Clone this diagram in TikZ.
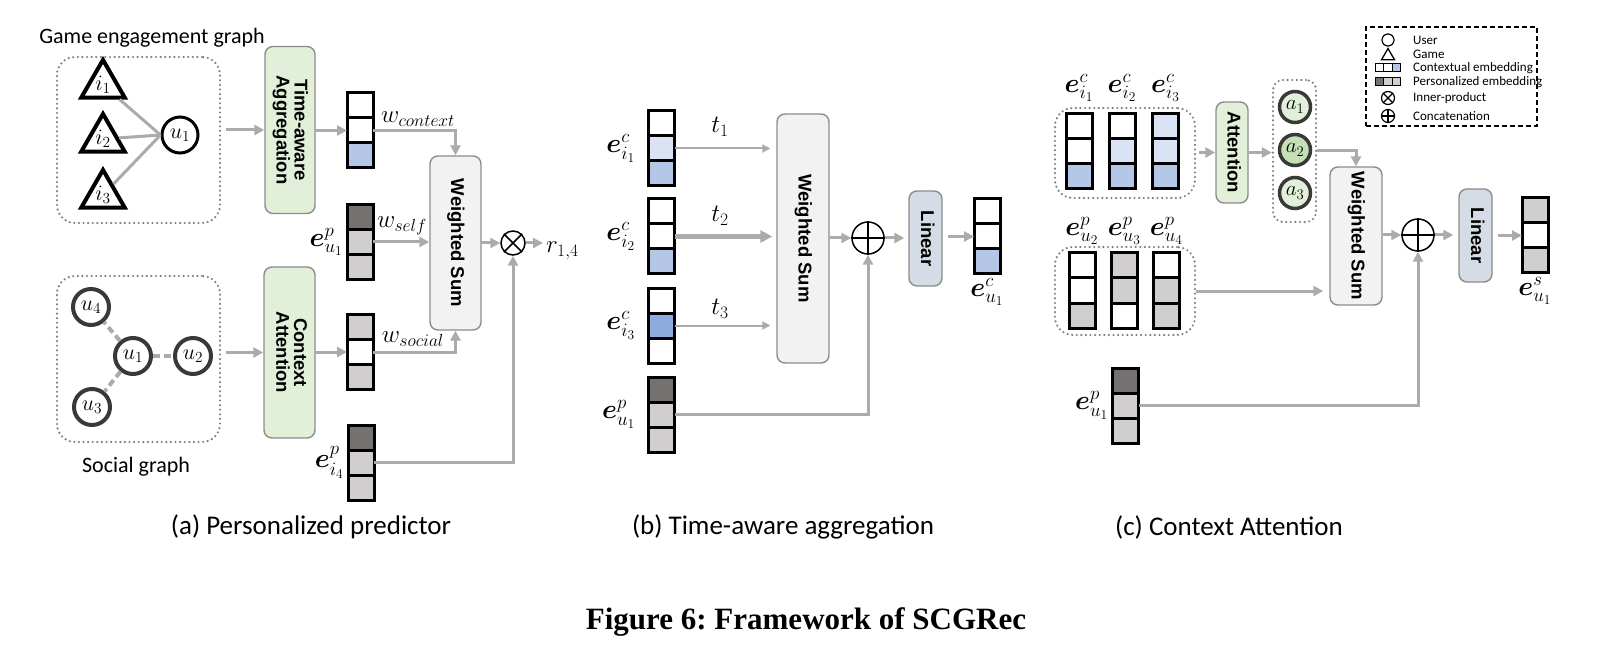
\RequirePackage{fix-cm}
\documentclass[tikz,border=0pt]{standalone}
\usepackage{amsmath}
\usepackage{amssymb}
\usepackage{bm}
\usepackage{fontspec}
\setmainfont{Carlito}
\newfontfamily\boxfont{Liberation Sans}
\newfontfamily\figfont{Liberation Serif}
\usetikzlibrary{arrows.meta}
\usetikzlibrary{shapes.geometric}
\usetikzlibrary{positioning}
\usetikzlibrary{calc}

\definecolor{arrgray}{HTML}{AEAAAA}
\definecolor{boxgray}{HTML}{8C8C8C}
\definecolor{dotgray}{HTML}{7F7F7F}
\definecolor{ringgray}{HTML}{3B3838}
\definecolor{ctxblue}{HTML}{B4C7E7}
\definecolor{ltblue}{HTML}{DAE3F3}
\definecolor{midblue}{HTML}{8FAADC}
\definecolor{pdark}{HTML}{767171}
\definecolor{plight}{HTML}{D0CECE}
\definecolor{attgreen}{HTML}{E2F0D9}
\definecolor{agreen}{HTML}{C5E0B4}
\definecolor{sumgray}{HTML}{F2F2F2}
\definecolor{linblue}{HTML}{D6DCE5}

\tikzset{cell/.style = {draw, line width = 3pt, minimum width = 26, minimum height = 25, inner sep = 0, outer sep = 0}}
\tikzset{lcell/.style = {draw, line width = 1pt, minimum width = 8.5, minimum height = 8, inner sep = 0, outer sep = 0}}
\tikzset{tbox/.style = {draw = boxgray, line width = 1.4pt, rounded corners = 8pt, inner sep = 0, font = \boxfont\bfseries\fontsize{18.5}{15}\selectfont}}
\tikzset{region/.style = {draw = dotgray, line width = 2.4pt, line cap = round, dash pattern = on 0pt off 4.6pt, rounded corners = 18pt, inner sep = 0}}
\tikzset{game/.style = {regular polygon, regular polygon sides = 3, draw, line width = 4pt, minimum size = 44, inner sep = 0, font = \fontsize{22}{22}\selectfont}}
\tikzset{user/.style = {circle, draw, line width = 3pt, minimum size = 36, inner sep = 0, font = \fontsize{22}{22}\selectfont}}
\tikzset{friend/.style = {user, draw = ringgray, line width = 4pt}}
\tikzset{weight/.style = {circle, draw = ringgray, line width = 3.5pt, minimum size = 31, inner sep = 0, fill = attgreen, font = \fontsize{21}{21}\selectfont}}
\tikzset{op/.style = {circle, draw, line width = 1.5pt, inner sep = 0}}
\tikzset{emb/.style = {inner sep = 1pt, font = \fontsize{27}{27}\selectfont}}
\tikzset{wlab/.style = {inner sep = 1pt, font = \fontsize{25}{25}\selectfont}}
\tikzset{glabel/.style = {inner sep = 0, font = \fontsize{22}{24}\selectfont}}
\tikzset{conn/.style = {draw = arrgray, line width = 3pt}}
\tikzset{garrow/.style = {conn, -{Triangle[length = 10pt, width = 10pt]}}}
\tikzset{tarrow/.style = {draw = arrgray, line width = 2pt, -{Triangle[length = 8pt, width = 8pt]}}}
\tikzset{gedge/.style = {draw = arrgray, line width = 3pt}}
\tikzset{sedge/.style = {draw = arrgray, line width = 4pt, dash pattern = on 7pt off 4pt}}

\newcommand{\vtext}[1]{\rotatebox{-90}{\begin{tabular}{@{}c@{}}#1\end{tabular}}}
\newcommand{\embcol}[6]{%
  \node[cell, fill = #4] (#1-1) at (#2, #3 - 25) {};
  \node[cell, fill = #5] (#1-2) at (#2, #3) {};
  \node[cell, fill = #6] (#1-3) at (#2, #3 + 25) {};
}

\begin{document}
\begin{tikzpicture}[x = 1pt, y = -1pt]
  \path[use as bounding box, fill = white] (0, 0) rectangle (1607, 655);

  % (a) personalized predictor
  \node[region, minimum width = 163, minimum height = 166] (gamebox) at (138.5, 140) {};
  \node[glabel] (gamelab) at (152, 38) {Game engagement graph};
  \node[game] (i1) at (103, 85) {$i_1$};
  \node[game] (i2) at (103, 139) {$i_2$};
  \node[game] (i3) at (103, 195) {$i_3$};
  \node[user] (u1) at (180, 135) {$u_1$};
  \foreach \g in {i1, i2, i3}
    \draw[gedge] (\g) -- (u1.west);

  \node[region, minimum width = 163, minimum height = 166] (socbox) at (138.5, 359) {};
  \node[glabel] (soclab) at (136, 467) {Social graph};
  \node[friend] (su1) at (133, 356) {$u_1$};
  \node[friend] (su2) at (193, 356) {$u_2$};
  \node[friend] (su3) at (92, 407) {$u_3$};
  \node[friend] (su4) at (91, 307) {$u_4$};
  \foreach \f in {su2, su3, su4}
    \draw[sedge] (su1) -- (\f);

  \node[tbox, fill = attgreen, minimum width = 50, minimum height = 167] (tagg) at (290, 130) {\vtext{Time-aware\\Aggregation}};
  \node[tbox, fill = attgreen, minimum width = 51, minimum height = 171] (catt) at (289.5, 352.5) {\vtext{Context\\Attention}};
  \node[tbox, fill = sumgray, minimum width = 51, minimum height = 174] (wsa) at (455.5, 243) {\vtext{Weighted Sum}};
  \node[op, minimum size = 24] (otimes) at (513, 243) {};
  \draw[line width = 1.5pt] (otimes.north west) -- (otimes.south east) (otimes.north east) -- (otimes.south west);

  \embcol{ctx}{360}{130.5}{white}{white}{ctxblue}
  \embcol{selfa}{360}{242}{pdark}{plight}{plight}
  \embcol{soc}{360}{352}{plight}{white}{plight}
  \embcol{gi4}{361}{462.5}{pdark}{plight}{plight}
  \node[emb, left = 3pt of selfa-2] (lselfa) {$\bm{e}^{p}_{u_1}$};
  \node[emb, left = 3pt of gi4-2] (lgi4) {$\bm{e}^{p}_{i_4}$};
  \node[wlab] (wctx) at (418, 119) {$w_{context}$};
  \node[wlab] (wself) at (402, 226) {$w_{self}$};
  \node[wlab] (wsoc) at (413, 339) {$w_{social}$};
  \node[wlab, anchor = west] (rlab) at (545, 251) {$r_{1,4}$};
  \coordinate (rend) at (543, 243);

  \draw[garrow, shorten <= 5pt] (gamebox.east |- tagg.west) -- (tagg.west);
  \draw[garrow, shorten <= 5pt] (socbox.east |- catt.west) -- (catt.west);
  \draw[garrow] (tagg.east |- ctx-2) -- (ctx-2.west);
  \draw[garrow] (catt.east |- soc-2) -- (soc-2.west);
  \draw[garrow] (ctx-2.east) -| (wsa.north);
  \draw[garrow] (selfa-2.east) -- (wsa.west |- selfa-2);
  \draw[garrow] (soc-2.east) -| (wsa.south);
  \draw[garrow] (wsa.east |- otimes) -- (otimes.west);
  \draw[garrow] (otimes.east) -- (rend);
  \draw[garrow] (gi4-2.east) -| (otimes.south);

  % (b) time-aware aggregation
  \embcol{bi1}{661.5}{148.5}{white}{ltblue}{ctxblue}
  \embcol{bi2}{661.5}{236.5}{white}{white}{ctxblue}
  \embcol{bi3}{661.5}{325.5}{white}{midblue}{white}
  \embcol{bu1}{661.5}{414.5}{pdark}{plight}{plight}
  \node[emb, left = 12pt of bi1-2] (lbi1) {$\bm{e}^{c}_{i_1}$};
  \node[emb, left = 12pt of bi2-2] (lbi2) {$\bm{e}^{c}_{i_2}$};
  \node[emb, left = 12pt of bi3-2] (lbi3) {$\bm{e}^{c}_{i_3}$};
  \node[emb, left = 12pt of bu1-2] (lbu1) {$\bm{e}^{p}_{u_1}$};
  \node[tbox, fill = sumgray, minimum width = 52, minimum height = 249] (wsb) at (803, 238.5) {\vtext{Weighted Sum}};
  \node[op, minimum size = 32] (oplusb) at (868, 238) {};
  \draw[line width = 1.5pt] (oplusb.north) -- (oplusb.south) (oplusb.west) -- (oplusb.east);
  \node[tbox, fill = linblue, minimum width = 33, minimum height = 95] (linb) at (925.5, 238.5) {\vtext{Linear}};
  \embcol{outb}{987}{236.5}{white}{white}{ctxblue}
  \node[emb, below = 3pt of outb-3] (loutb) {$\bm{e}^{c}_{u_1}$};
  \node[wlab] (t1) at (720, 127) {$t_1$};
  \node[wlab] (t2) at (720, 216) {$t_2$};
  \node[wlab] (t3) at (720, 309) {$t_3$};

  \draw[tarrow, shorten >= 6pt] (bi1-2.east) -- (wsb.west |- bi1-2);
  \draw[tarrow, line width = 4.2pt, -{Triangle[length = 12pt, width = 12pt]}, shorten >= 4pt] (bi2-2.east) -- (wsb.west |- bi2-2);
  \draw[tarrow, shorten >= 6pt] (bi3-2.east) -- (wsb.west |- bi3-2);
  \draw[garrow] (wsb.east |- oplusb) -- (oplusb.west);
  \draw[garrow, shorten >= 4pt] (oplusb.east) -- (linb.west |- oplusb);
  \draw[garrow, shorten <= 5pt] (linb.east |- outb-2) -- (outb-2.west);
  \draw[garrow] (bu1-2.east) -| (oplusb.south);

  % (c) context attention
  \node[region, minimum width = 140, minimum height = 90] (topreg) at (1125, 153) {};
  \node[region, minimum width = 140, minimum height = 88] (botreg) at (1125, 291) {};
  \embcol{ci1}{1079}{151.5}{white}{white}{ctxblue}
  \embcol{ci2}{1122}{151.5}{white}{ltblue}{ctxblue}
  \embcol{ci3}{1165.5}{151.5}{ltblue}{ltblue}{ctxblue}
  \embcol{cu2}{1082}{290.5}{white}{white}{plight}
  \embcol{cu3}{1124.5}{290.5}{plight}{plight}{white}
  \embcol{cu4}{1166.5}{290.5}{white}{plight}{plight}
  \node[emb, above = 11pt of ci1-1] (lci1) {$\bm{e}^{c}_{i_1}$};
  \node[emb, above = 11pt of ci2-1] (lci2) {$\bm{e}^{c}_{i_2}$};
  \node[emb, above = 11pt of ci3-1] (lci3) {$\bm{e}^{c}_{i_3}$};
  \node[emb, above = 7pt of cu2-1] (lcu2) {$\bm{e}^{p}_{u_2}$};
  \node[emb, above = 7pt of cu3-1] (lcu3) {$\bm{e}^{p}_{u_3}$};
  \node[emb, above = 7pt of cu4-1] (lcu4) {$\bm{e}^{p}_{u_4}$};
  \node[tbox, fill = attgreen, minimum width = 32, minimum height = 101] (att) at (1232, 152.5) {\vtext{Attention}};
  \node[region, rounded corners = 10pt, minimum width = 43, minimum height = 142] (areg) at (1294.5, 151) {};
  \node[weight] (a1) at (1295, 107) {$a_1$};
  \node[weight, fill = agreen] (a2) at (1295, 150) {$a_2$};
  \node[weight] (a3) at (1295, 193) {$a_3$};
  \node[tbox, fill = sumgray, minimum width = 52, minimum height = 138] (wsc) at (1356, 236) {\vtext{Weighted Sum}};
  \node[op, minimum size = 32] (oplusc) at (1418, 235) {};
  \draw[line width = 1.5pt] (oplusc.north) -- (oplusc.south) (oplusc.west) -- (oplusc.east);
  \node[tbox, fill = linblue, minimum width = 33, minimum height = 93] (linc) at (1475.5, 235.5) {\vtext{Linear}};
  \embcol{outc}{1535}{235.5}{plight}{white}{plight}
  \node[emb, below = 3pt of outc-3] (loutc) {$\bm{e}^{s}_{u_1}$};
  \embcol{cu1}{1125.5}{405.5}{pdark}{plight}{plight}
  \node[emb, left = 3pt of cu1-2] (lcu1) {$\bm{e}^{p}_{u_1}$};

  \draw[garrow, shorten <= 3pt] (topreg.east |- att) -- (att.west);
  \draw[garrow] (att.east) -- (areg.west |- att);
  \draw[garrow] (areg.east) -| (wsc.north);
  \draw[garrow, shorten >= 6pt] (botreg.east) -- (wsc.west |- botreg.east);
  \draw[garrow] (wsc.east |- oplusc) -- (oplusc.west);
  \draw[garrow, shorten >= 5pt] (oplusc.east) -- (linc.west |- oplusc);
  \draw[garrow, shorten <= 5pt] (linc.east |- outc-2) -- (outc-2.west);
  \draw[garrow] (cu1-2.east) -| (oplusc.south);

  % legend
  \node[draw, line width = 1.2pt, dash pattern = on 5pt off 3pt, minimum width = 171, minimum height = 99, inner sep = 0] (legend) at (1451.5, 76.5) {};
  \node[circle, draw, line width = 1.2pt, minimum size = 12, inner sep = 0] (lguser) at (1388, 40) {};
  \node[regular polygon, regular polygon sides = 3, draw, line width = 1.3pt, minimum size = 15, inner sep = 0] (lggame) at (1388, 56) {};
  \node[lcell, fill = white] (lgc1) at (1379.5, 68) {};
  \node[lcell, fill = white] (lgc2) at (1388, 68) {};
  \node[lcell, fill = ctxblue] (lgc3) at (1396.5, 68) {};
  \node[lcell, fill = pdark] (lgp1) at (1379.5, 82) {};
  \node[lcell, fill = plight] (lgp2) at (1388, 82) {};
  \node[lcell, fill = plight] (lgp3) at (1396.5, 82) {};
  \node[op, line width = 1.2pt, minimum size = 13] (lgot) at (1388, 98) {};
  \draw[line width = 1.2pt] (lgot.north west) -- (lgot.south east) (lgot.north east) -- (lgot.south west);
  \node[op, line width = 1.2pt, minimum size = 13] (lgop) at (1388, 116) {};
  \draw[line width = 1.2pt] (lgop.north) -- (lgop.south) (lgop.west) -- (lgop.east);
  \foreach \t/\y in {User/40, Game/54, Contextual embedding/68, Personalized embedding/82, Inner-product/98, Concatenation/116}
    \node[anchor = west, inner sep = 0, font = \fontsize{13}{13}\selectfont] at (1413, \y) {\t};

  % captions
  \node[font = \fontsize{27}{30}\selectfont] (capa) at (311, 527) {(a) Personalized predictor};
  \node[font = \fontsize{27}{30}\selectfont] (capb) at (783, 527) {(b) Time-aware aggregation};
  \node[font = \fontsize{27}{30}\selectfont] (capc) at (1229, 527) {(c) Context Attention};
  \node[font = \figfont\bfseries\fontsize{31}{34}\selectfont\frenchspacing] (figcap) at (806, 622) {Figure 6: Framework of SCGRec};
\end{tikzpicture}
\end{document}
